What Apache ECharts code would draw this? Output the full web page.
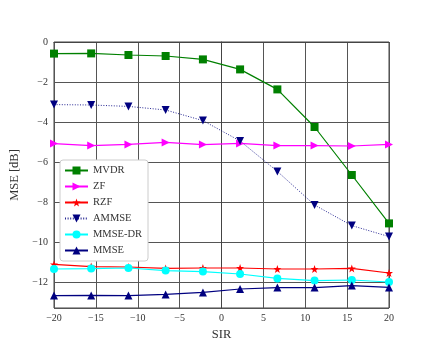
<!DOCTYPE html>
<html>
<head>
<meta charset="utf-8">
<script src="https://cdn.jsdelivr.net/npm/echarts@6/dist/echarts.min.js"></script>
<style>
  html, body { margin: 0; padding: 0; background: #fff; }
  #chart { width: 432px; height: 346px; }
</style>
</head>
<body>
<div id="chart"></div>
<script>
// x positions (SIR) of the markers
var sir = [-20, -15.56, -11.11, -6.67, -2.22, 2.22, 6.67, 11.11, 15.56, 20];
// MSE [dB] per method
var mvdr   = [-0.58, -0.57, -0.65, -0.70, -0.87, -1.37, -2.37, -4.25, -6.65, -9.07];
var zf     = [-5.08, -5.18, -5.12, -5.02, -5.13, -5.07, -5.18, -5.18, -5.20, -5.12];
var rzf    = [-11.12, -11.23, -11.25, -11.32, -11.30, -11.30, -11.35, -11.35, -11.32, -11.55];
var ammse  = [-3.13, -3.15, -3.22, -3.40, -3.93, -4.95, -6.47, -8.15, -9.18, -9.73];
var mmseDr = [-11.35, -11.33, -11.30, -11.43, -11.48, -11.60, -11.82, -11.93, -11.90, -12.00];
var mmse   = [-12.68, -12.67, -12.68, -12.62, -12.52, -12.35, -12.28, -12.28, -12.18, -12.27];
var names  = ['MVDR', 'ZF', 'RZF', 'AMMSE', 'MMSE-DR', 'MMSE'];

var starPath = 'path://M0,-10 L2.35,-3.24 L9.51,-3.09 L3.8,1.24 L5.88,8.09 L0,4 L-5.88,8.09 L-3.8,1.24 L-9.51,-3.09 L-2.35,-3.24 Z';
var serif = '"Liberation Serif", "DejaVu Serif", serif';

function pairs(ys) {
    var out = [];
    for (var i = 0; i < sir.length; i++) {
        out.push([sir[i], ys[i]]);
    }
    return out;
}
function minus(v) {
    return String(v).replace('-', '\u2212');
}
function line(name, ys, color, symbol, size, rotate, dotted) {
    return {
        name: name,
        type: 'line',
        data: pairs(ys),
        symbol: symbol,
        symbolSize: size,
        symbolRotate: rotate,
        showAllSymbol: true,
        itemStyle: { color: color },
        lineStyle: dotted
            ? { color: color, width: 1, type: [1, 1.6], opacity: 0.85 }
            : { color: color, width: 1.2, type: 'solid' },
        emphasis: { disabled: true },
        animation: false
    };
}

var myChart = echarts.init(document.getElementById('chart'), null, { renderer: 'canvas' });
var option = {
    animation: false,
    grid: {
        left: 54, right: 43, top: 42, bottom: 38,
        show: true, borderColor: '#444', borderWidth: 1
    },
    legend: {
        data: names,
        orient: 'vertical',
        left: 60, top: 160,
        itemWidth: 23, itemHeight: 10, itemGap: 5,
        padding: [5, 6, 5, 4],
        backgroundColor: '#fff',
        borderColor: '#ccc', borderWidth: 1, borderRadius: 3,
        textStyle: { fontFamily: serif, fontSize: 10.5, color: '#333' }
    },
    xAxis: {
        type: 'value',
        min: -20, max: 20, interval: 5,
        name: 'SIR', nameLocation: 'middle', nameGap: 15,
        nameTextStyle: { fontFamily: serif, fontSize: 12.5, color: '#333' },
        axisLine: { lineStyle: { color: '#444' } },
        axisTick: { show: false },
        axisLabel: { fontFamily: serif, fontSize: 10, color: '#333', margin: 5, formatter: minus },
        splitLine: { lineStyle: { color: '#555', width: 1 } }
    },
    yAxis: {
        type: 'value',
        min: -13.3, max: 0, splitNumber: 7,
        name: 'MSE [dB]', nameLocation: 'middle', nameGap: 29,
        nameTextStyle: { fontFamily: serif, fontSize: 12.5, color: '#333' },
        axisLine: { lineStyle: { color: '#444' } },
        axisTick: { show: false },
        axisLabel: {
            fontFamily: serif, fontSize: 10, color: '#333', margin: 6, showMinLabel: false,
            formatter: function (v) { return Math.abs(v % 2) < 1e-6 ? minus(v) : ''; }
        },
        splitLine: { lineStyle: { color: '#555', width: 1 } }
    },
    series: [
        line('MVDR', mvdr, '#008000', 'rect', 8, 0, false),
        line('ZF', zf, '#ff00ff', 'triangle', 8, -90, false),
        line('RZF', rzf, '#ff0000', starPath, 8, 0, false),
        line('AMMSE', ammse, '#000080', 'triangle', 8, 180, true),
        line('MMSE-DR', mmseDr, '#00ffff', 'circle', 8, 0, false),
        line('MMSE', mmse, '#000080', 'triangle', 8, 0, false)
    ]
};
myChart.setOption(option);
</script>
</body>
</html>
